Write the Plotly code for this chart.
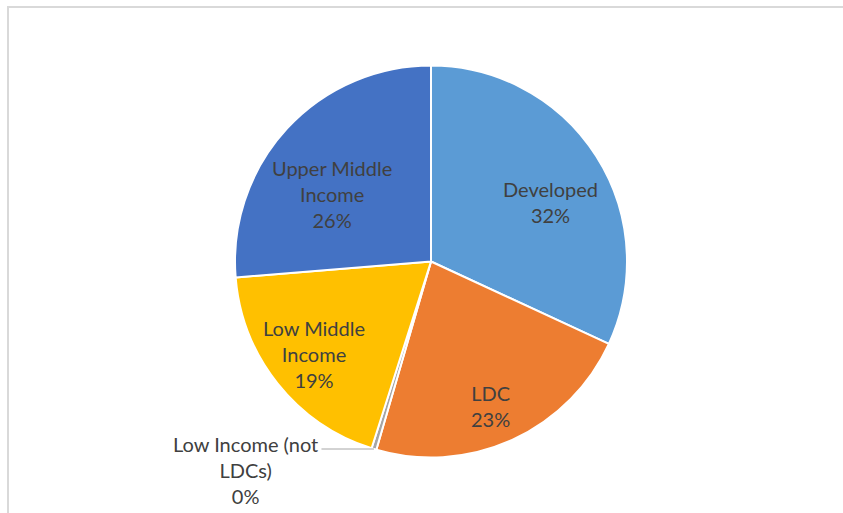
import math
import plotly.graph_objects as go

categories = ["Developed", "LDC", "Low Income (not LDCs)", "Low Middle Income", "Upper Middle Income"]
display_labels = ["Developed", "LDC", "Low Income (not<br>LDCs)", "Low Middle<br>Income", "Upper Middle<br>Income"]
values = [31.9, 22.6, 0.4, 18.8, 26.3]
colors = ["#5B9BD5", "#ED7D31", "#A5A5A5", "#FFC000", "#4472C4"]

# label placement style (radius fraction, angle nudge in degrees); None = outside with leader
label_radius = [0.68, 0.80, None, 0.76, 0.61]
label_angle_nudge = [6, 2, 0, 0, -8.5]

W, H = 843, 513
cx, cy, R = 431, 261.5, 196
FONT = dict(family="Lato, Liberation Sans, Arial, sans-serif", size=20, color="#404040")

fig = go.Figure(go.Pie(
    labels=categories,
    values=values,
    sort=False,
    direction="clockwise",
    rotation=0,
    marker=dict(colors=colors, line=dict(color="white", width=2)),
    textinfo="none",
    showlegend=False,
    domain=dict(x=[(cx - R) / W, (cx + R) / W], y=[1 - (cy + R) / H, 1 - (cy - R) / H]),
    hoverinfo="label+percent",
))

total = sum(values)
annotations = []
cum = 0.0
for lab, v, rf, nudge in zip(display_labels, values, label_radius, label_angle_nudge):
    mid = (cum + v / 2) / total * 360.0
    cum += v
    pct = f"{round(v / total * 100)}%"
    text = f"{lab}<br>{pct}"
    if rf is not None:
        a = math.radians(mid + nudge)
        px = cx + rf * R * math.sin(a)
        py = cy - rf * R * math.cos(a)
        annotations.append(dict(x=px / W, y=1 - py / H, xref="paper", yref="paper",
                                text=text, showarrow=False, font=FONT,
                                xanchor="center", yanchor="middle", align="center"))
    else:
        a = math.radians(mid)
        ex = cx + R * math.sin(a)
        ey = cy - R * math.cos(a)
        annotations.append(dict(x=ex / W, y=1 - ey / H, xref="paper", yref="paper",
                                text="", showarrow=True, arrowhead=0, arrowwidth=1,
                                arrowcolor="#A6A6A6", ax=-54, ay=0, standoff=0))
        annotations.append(dict(x=ex / W, y=1 - ey / H, xref="paper", yref="paper",
                                text=text, showarrow=False, font=FONT, align="center",
                                xanchor="right", yanchor="top", xshift=-54, yshift=19))

fig.update_layout(
    width=W, height=H,
    margin=dict(l=0, r=0, t=0, b=0),
    paper_bgcolor="white",
    annotations=annotations,
    shapes=[dict(type="rect", xref="paper", yref="paper",
                 x0=8 / W, x1=1.02, y0=-0.02, y1=1 - 7 / H,
                 line=dict(color="#D9D9D9", width=2), fillcolor="rgba(0,0,0,0)")],
)

fig.write_html("out.html")
